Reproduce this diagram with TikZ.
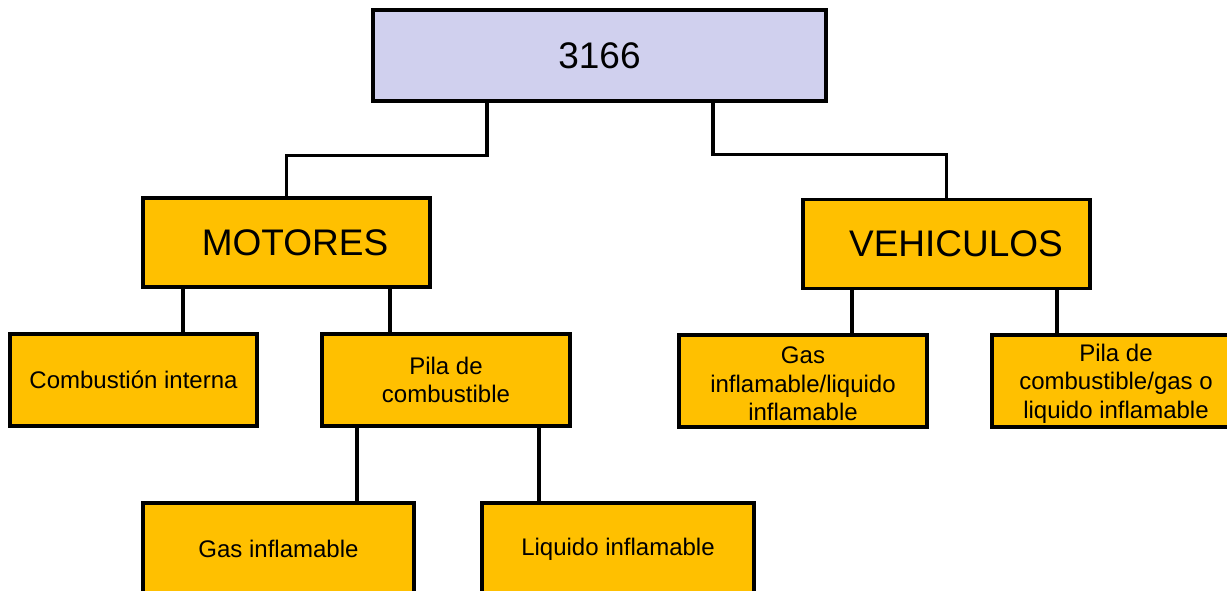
\documentclass[tikz,border=0pt]{standalone}
\usepackage{fontspec}
\setmainfont{Liberation Sans}
\definecolor{rootfill}{RGB}{208,208,238}
\definecolor{boxfill}{RGB}{255,192,0}
\tikzset{
  box/.style={draw, line width=3.3pt, inner sep=0pt, align=center, text=black},
  rootbox/.style={box, fill=rootfill, minimum width=453pt, minimum height=91pt, font=\fontsize{37}{40}\selectfont},
  catbox/.style={box, fill=boxfill, minimum width=287pt, minimum height=89pt, font=\fontsize{37}{40}\selectfont},
  leafbox/.style={box, fill=boxfill, minimum width=248pt, minimum height=92pt, font=\fontsize{24}{28.5}\selectfont},
  link/.style={line width=3.3pt}
}
\begin{document}
\begin{tikzpicture}[x=1pt, y=-1pt]
\useasboundingbox (0,0) rectangle (1227,591);
\clip (0,0) rectangle (1227,591);
\node[rootbox] (root) at (599.5,55.5){3166};
\node[catbox] (mot) at (286.5,242.5){\hspace*{17pt}MOTORES};
\node[catbox] (veh) at (946.5,244){\hspace*{19pt}VEHICULOS};
\draw[link] ([xshift=-112.5pt]root.south) |- ([yshift=41pt]mot.north) -- (mot.north);
\draw[link] ([xshift=113.5pt]root.south) |- ([yshift=43pt]veh.north) -- (veh.north);
\node[leafbox, minimum width=247pt] (comb) at (133.5,380){Combustión interna};
\node[leafbox] (pila) at (446,380){Pila de\\combustible};
\draw[link] ([xshift=-103.5pt]mot.south) -- ([xshift=-103.5pt]mot.south |- comb.north);
\draw[link] ([xshift=103.5pt]mot.south) -- ([xshift=103.5pt]mot.south |- pila.north);
\node[leafbox, minimum width=271pt] (gas) at (278.5,549){Gas inflamable};
\node[leafbox, minimum width=272pt] (liq) at (618,549){Liquido inflamable};
\draw[link] ([xshift=-89pt]pila.south) -- ([xshift=-89pt]pila.south |- gas.north);
\draw[link] ([xshift=93pt]pila.south) -- ([xshift=93pt]pila.south |- liq.north);
\node[leafbox] (vgas) at (803,381){Gas\\inflamable/liquido\\inflamable\vspace*{-6pt}};
\node[leafbox] (vpila) at (1116,381){Pila de\\combustible/gas o\\liquido inflamable\vspace*{-5pt}};
\draw[link] ([xshift=-94.5pt]veh.south) -- ([xshift=-94.5pt]veh.south |- vgas.north);
\draw[link] ([xshift=110.5pt]veh.south) -- ([xshift=110.5pt]veh.south |- vpila.north);
\end{tikzpicture}
\end{document}
